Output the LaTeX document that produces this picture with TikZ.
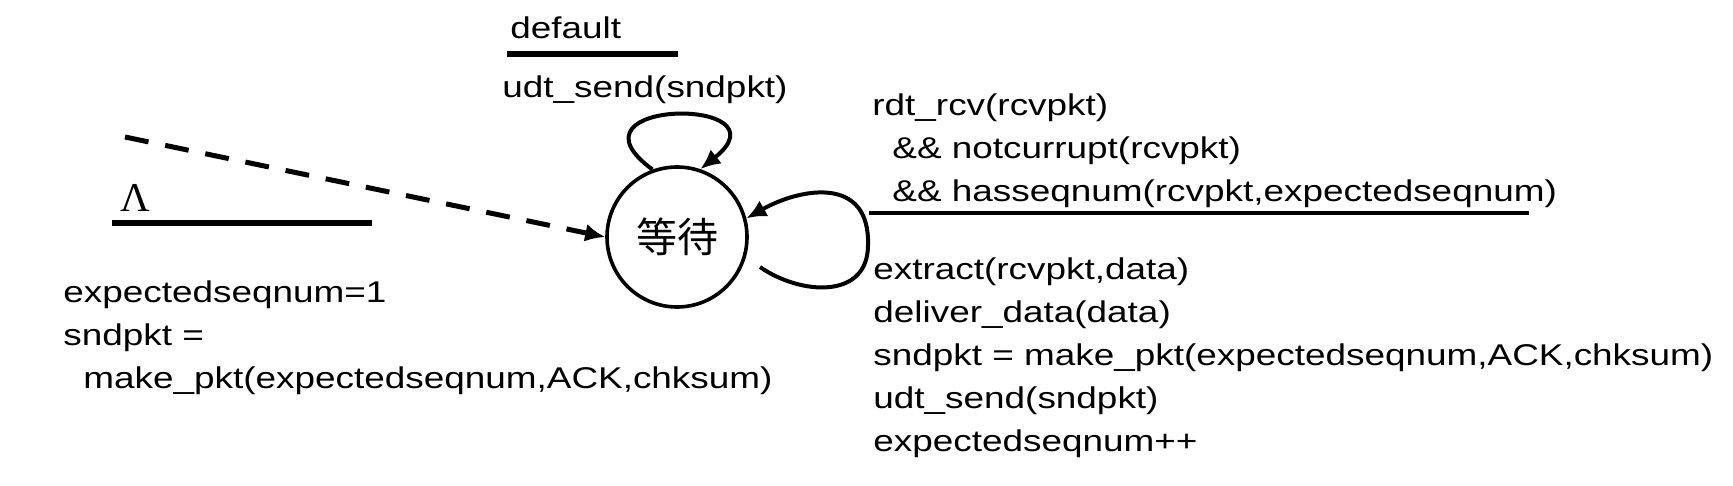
\documentclass[tikz,border=0pt]{standalone}
\usepackage{fontspec}
\setmainfont{Liberation Sans}[FakeStretch=1.23]
\newfontfamily\cjk{Noto Sans CJK SC}
\newfontfamily\lamfont{Liberation Serif}
\usetikzlibrary{arrows.meta}
\begin{document}
\begin{tikzpicture}[x=0.5pt,y=-0.5pt,
  lbl/.style={anchor=base west,inner sep=0pt,font=\fontsize{15pt}{18pt}\selectfont},
  state/.style={circle,draw,line width=1.8pt,minimum size=70pt,inner sep=0pt,font=\cjk\fontsize{20.5pt}{24pt}\selectfont},
  trans/.style={line width=2pt,-{Latex[length=10pt,width=9pt]}},
  bar/.style={line width=3.2pt},
  thinbar/.style={line width=1.6pt}]
\useasboundingbox (0,0) rectangle (1733,486);
% state
\node[state] (w) at (677,237) {等待};
% top self loop
\node[lbl] (def) at (510,39) {default};
\coordinate (d1) at (507,54);
\coordinate (d2) at (678,54);
\draw[bar] (d1) -- (d2);
\node[lbl] (us) at (502,98) {udt\_send(sndpkt)};
\draw[trans] (w.110) .. controls (555,98) and (792,96) .. (w.71);
% initial dashed
\coordinate (s0) at (125,137);
\draw[trans,line width=2.5pt,dash pattern=on 12pt off 8.5pt] (s0) -- (w.west);
\node[lbl,font=\lamfont\fontsize{20.5pt}{24pt}\selectfont] (lam) at (120,212) {Λ};
\coordinate (l1) at (112,223);
\coordinate (l2) at (372,223);
\draw[bar] (l1) -- (l2);
\node[lbl] (i1) at (63,302) {expectedseqnum=1};
\node[lbl] (i2) at (63,345) {sndpkt =};
\node[lbl] (i3) at (83,388) {make\_pkt(expectedseqnum,ACK,chksum)};
% right loop
\coordinate (r0) at (760,267);
\coordinate (rm) at (868,245);
\draw[line width=2pt] (r0) .. controls (800,295) and (868,300) .. (rm);
\draw[trans] (rm) .. controls (870,175) and (800,188) .. (w.15);
\node[lbl] (c1) at (872,116) {rdt\_rcv(rcvpkt)};
\node[lbl] (c2) at (892,159) {\&\& notcurrupt(rcvpkt)};
\node[lbl] (c3) at (892,202) {\&\& hasseqnum(rcvpkt,expectedseqnum)};
\coordinate (u1) at (869,213);
\coordinate (u2) at (1529,213);
\draw[thinbar] (u1) -- (u2);
\node[lbl] (a1) at (873,279) {extract(rcvpkt,data)};
\node[lbl] (a2) at (873,322) {deliver\_data(data)};
\node[lbl] (a3) at (873,365) {sndpkt = make\_pkt(expectedseqnum,ACK,chksum)};
\node[lbl] (a4) at (873,408) {udt\_send(sndpkt)};
\node[lbl] (a5) at (873,451) {expectedseqnum++};
\end{tikzpicture}
\end{document}
